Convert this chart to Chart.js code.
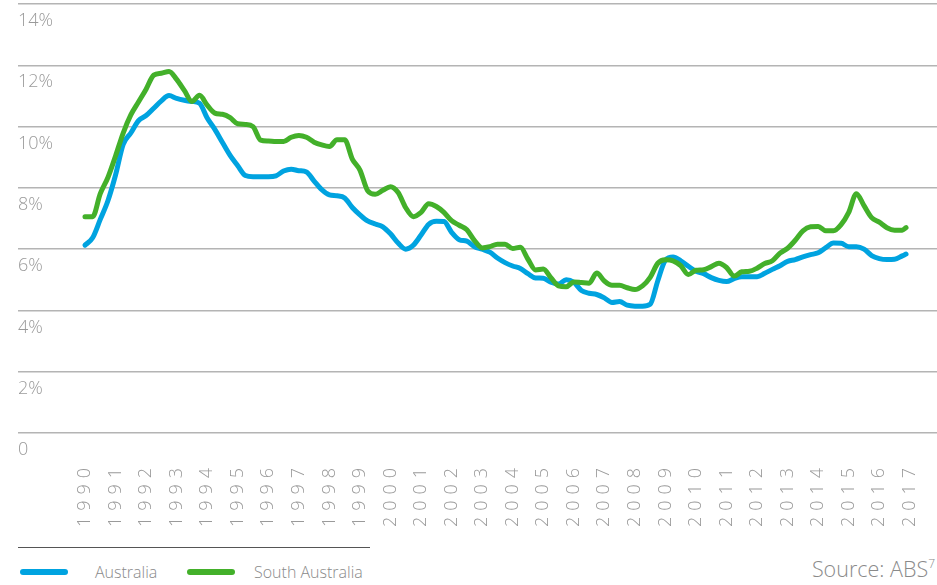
<!DOCTYPE html>
<html>
<head>
<meta charset="utf-8">
<script src="https://cdn.jsdelivr.net/npm/chart.js@4.4.1/dist/chart.umd.min.js"></script>
<style>
html, body { margin: 0; padding: 0; background: #fff; }
#wrap { position: relative; width: 937px; height: 585px; overflow: hidden; font-family: "Open Sans", sans-serif; }
#box { position: absolute; left: 0; top: 0; width: 937px; height: 540px; }
#sep { position: absolute; left: 18px; top: 547px; width: 352px; border-top: 1px solid #555; }
.swatch { position: absolute; top: 569px; width: 48px; height: 6px; border-radius: 3px; }
.key { position: absolute; top: 561px; font-size: 16px; line-height: 22px; color: #8a8a8a; font-weight: 300; }
#src { position: absolute; right: 2px; top: 554px; font-size: 21.5px; color: #8a8a8a; font-weight: 300; }
#src sup { font-size: 12px; vertical-align: 9px; }
</style>
</head>
<body>
<div id="wrap">
  <div id="box"><canvas id="chart"></canvas></div>
  <div id="sep"></div>
  <div class="swatch" style="left:20px;background:#00a3e0"></div>
  <div class="key" style="left:95px">Australia</div>
  <div class="swatch" style="left:187px;background:#43b02a"></div>
  <div class="key" style="left:254px">South Australia</div>
  <div id="src">Source: ABS<sup>7</sup></div>
</div>
<script>
// 四半期ごとの失業率 (%) 1990年〜2016年、最後の1点は2016年11月頃
const FIRST_YEAR = 1990;
const STEP       = 0.25;
const LAST_POINT = 2016.875;

const australia = [
    6.13, 6.37, 6.97, 7.58, 8.42, 9.42, 9.79, 10.19, 10.36, 10.6,
    10.84, 11.01, 10.92, 10.86, 10.82, 10.76, 10.28, 9.91, 9.48, 9.06,
    8.72, 8.4, 8.36, 8.36, 8.36, 8.39, 8.55, 8.61, 8.56, 8.52,
    8.22, 7.94, 7.77, 7.74, 7.67, 7.36, 7.12, 6.92, 6.82, 6.73,
    6.5, 6.2, 6.0, 6.13, 6.46, 6.81, 6.91, 6.9, 6.55, 6.31,
    6.26, 6.08, 6.0, 5.9, 5.71, 5.56, 5.45, 5.37, 5.2, 5.06,
    5.05, 4.92, 4.86, 5.0, 4.92, 4.65, 4.56, 4.52, 4.41, 4.26,
    4.29, 4.17, 4.14, 4.14, 4.2, 4.97, 5.64, 5.74, 5.62, 5.44,
    5.28, 5.2, 5.07, 4.98, 4.94, 5.04, 5.1, 5.1, 5.1, 5.21,
    5.34, 5.46, 5.6, 5.66, 5.75, 5.82, 5.88, 6.05, 6.2, 6.19,
    6.08, 6.08, 6.0, 5.79, 5.69, 5.66, 5.67, 5.78,
    5.84
];

const southAustralia = [
    7.06, 7.06, 7.81, 8.34, 9.04, 9.79, 10.38, 10.8, 11.22, 11.68,
    11.74, 11.8, 11.54, 11.18, 10.82, 11.02, 10.7, 10.44, 10.4, 10.29,
    10.09, 10.07, 10.0, 9.56, 9.53, 9.51, 9.51, 9.65, 9.71, 9.65,
    9.49, 9.4, 9.35, 9.57, 9.57, 8.94, 8.58, 7.91, 7.79, 7.92,
    8.04, 7.85, 7.35, 7.06, 7.2, 7.48, 7.39, 7.2, 6.93, 6.78,
    6.63, 6.28, 6.04, 6.08, 6.16, 6.16, 6.02, 6.06, 5.67, 5.32,
    5.35, 5.07, 4.8, 4.77, 4.93, 4.91, 4.89, 5.22, 4.96, 4.82,
    4.82, 4.74, 4.68, 4.8, 5.08, 5.54, 5.65, 5.62, 5.46, 5.17,
    5.31, 5.33, 5.43, 5.54, 5.4, 5.12, 5.26, 5.28, 5.38, 5.53,
    5.62, 5.87, 6.03, 6.29, 6.6, 6.73, 6.74, 6.6, 6.6, 6.8,
    7.2, 7.81, 7.42, 7.03, 6.88, 6.7, 6.62, 6.62,
    6.7
];

const YEAR_TICKS = [
    1990, 1991, 1992, 1993, 1994, 1995, 1996, 1997, 1998, 1999,
    2000, 2001, 2002, 2003, 2004, 2005, 2006, 2007, 2008, 2009,
    2010, 2011, 2012, 2013, 2014, 2015, 2016, 2017
];
const PCT_TICKS = [ 0, 2, 4, 6, 8, 10, 12, 14 ];

const BLUE  = "#00a3e0";
const GREEN = "#43b02a";
const GREY  = "#9a9a9a";

function toPoints(values){
    return values.map(function(v, i){
        const x = (i === values.length - 1) ? LAST_POINT : FIRST_YEAR + i * STEP;
        return { x: x, y: v };
    });
}

// x軸ラベルだけ字間を広げる
const xLetterSpacing = {
    id: "xLetterSpacing",
    beforeDraw(chart){
        const sc = chart.scales.x;
        if (sc._spaced) return;
        const orig = sc.drawLabels;
        sc.drawLabels = function(area){
            this.ctx.save();
            this.ctx.letterSpacing = "6px";
            orig.call(this, area);
            this.ctx.restore();
        };
        sc._spaced = true;
    }
};

const labelFont = { family: "'Open Sans', sans-serif", size: 18, weight: 300 };

window.addEventListener("load", function(){
    const ctx = document.getElementById("chart").getContext("2d");
    new Chart(ctx, {
        type: "line",
        data: {
            datasets: [
                { label: "Australia",       data: toPoints(australia),      borderColor: BLUE,  order: 1 },
                { label: "South Australia", data: toPoints(southAustralia), borderColor: GREEN, order: 0 },
            ]
        },
        options: {
            responsive: true,
            maintainAspectRatio: false,
            animation: false,
            layout: { padding: { left: 18, top: 4, right: 0, bottom: 0 } },
            elements: {
                point: { radius: 0 },
                line: { borderWidth: 5, tension: 0.3, cubicInterpolationMode: "monotone",
                        borderCapStyle: "round", borderJoinStyle: "round", fill: false }
            },
            plugins: { legend: { display: false }, tooltip: { enabled: false } },
            scales: {
                x: {
                    type: "linear",
                    min: 1987.807,
                    max: 2017.889,
                    grid: { display: false },
                    border: { display: false },
                    afterBuildTicks(s){ s.ticks = YEAR_TICKS.map(v => ({ value: v })); },
                    afterFit(s){ s.height = 107; s.paddingLeft = 0; s.paddingRight = 0; },
                    ticks: {
                        autoSkip: false, minRotation: 90, maxRotation: 90, padding: 21,
                        color: GREY, font: labelFont,
                        callback: v => String(v)
                    }
                },
                y: {
                    min: 0,
                    max: 14,
                    grid: { color: "#b4b4b4", lineWidth: 1.5, drawTicks: false },
                    border: { display: false },
                    afterBuildTicks(s){ s.ticks = PCT_TICKS.map(v => ({ value: v })); },
                    afterFit(s){ s.paddingTop = 0; s.paddingBottom = 0; },
                    ticks: {
                        mirror: true, padding: 0, labelOffset: 17,
                        color: GREY, font: labelFont,
                        callback: v => (v === 0 ? "0" : v + "%")
                    }
                }
            }
        },
        plugins: [ xLetterSpacing ]
    });
});
</script>
</body>
</html>
